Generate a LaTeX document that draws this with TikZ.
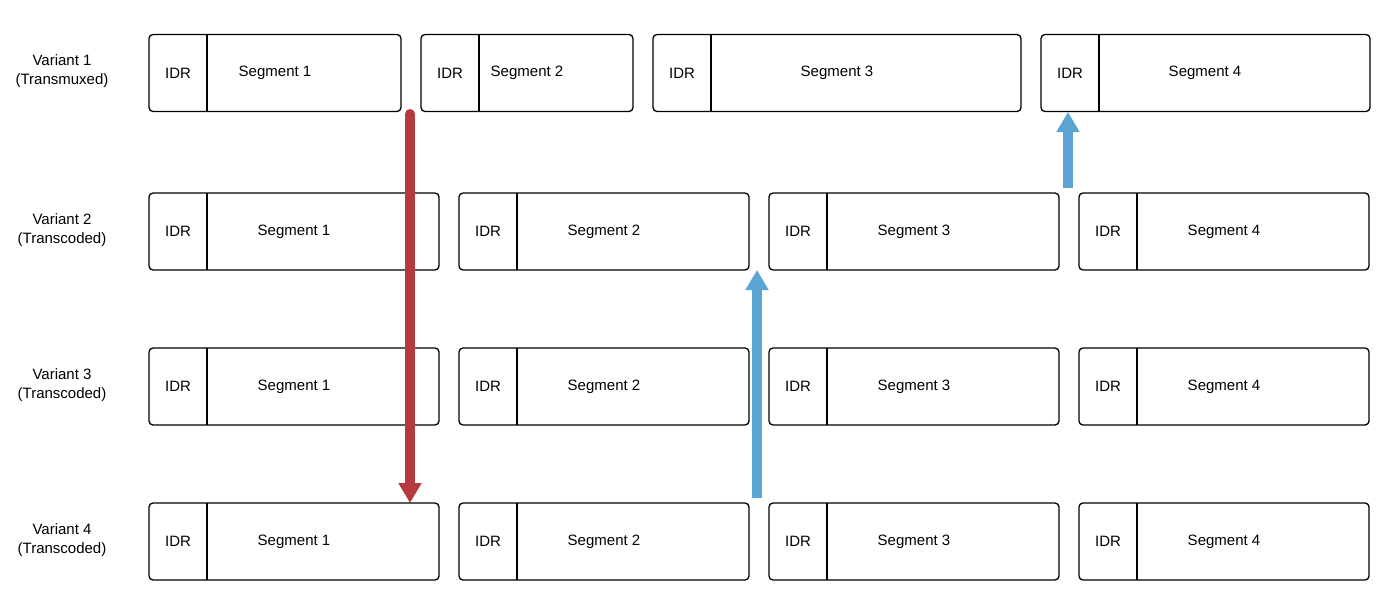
\documentclass[tikz,border=0pt]{standalone}
\usepackage{fontspec}
\setmainfont{Liberation Sans}
\usetikzlibrary{arrows.meta}
\definecolor{redarr}{HTML}{B5393F}
\definecolor{bluearr}{HTML}{5BA4D4}
\tikzset{
 seg/.style={draw=black, line width=1.3pt, rounded corners=4pt, minimum height=77pt, inner sep=0pt},
 txt/.style={font=\fontsize{15}{18}\selectfont, inner sep=0pt},
 lab/.style={font=\fontsize{15}{19}\selectfont, align=center, inner sep=0pt},
 fat/.style={line width=10pt, -{Triangle[width=22pt,length=20pt]}}
}
\newcommand{\sg}[6]{% name, x1, x2, ymid, segtext x, text
 \node[seg, minimum width={#3-#2}] (#1) at ({(#2+#3)/2},#4) {};
 \draw[line width=1.3pt] ({#2+58},{#4-38.5}) -- ({#2+58},{#4+38.5});
 \node[txt] (#1i) at ({#2+29},#4) {IDR};
 \node[txt] (#1t) at (#5,#4) {#6};
}
\begin{document}
\begin{tikzpicture}[x=1pt,y=-1pt]
\useasboundingbox (0,0) rectangle (1388,610);
\node[lab] (v1) at (62,71) {Variant 1\\(Transmuxed)};
\node[lab] (v2) at (62,230) {Variant 2\\(Transcoded)};
\node[lab] (v3) at (62,385) {Variant 3\\(Transcoded)};
\node[lab] (v4) at (62,540) {Variant 4\\(Transcoded)};
\sg{a1}{149}{401}{73}{275}{Segment 1}
\sg{a2}{421}{633}{73}{527}{Segment 2}
\sg{a3}{653}{1021}{73}{837}{Segment 3}
\sg{a4}{1041}{1370}{73}{1205}{Segment 4}
\foreach \r/\y in {b/231.5,c/386.5,d/541.5}{
 \sg{\r1}{149}{439}{\y}{294}{Segment 1}
 \sg{\r2}{459}{749}{\y}{604}{Segment 2}
 \sg{\r3}{769}{1059}{\y}{914}{Segment 3}
 \sg{\r4}{1079}{1369}{\y}{1224}{Segment 4}
}
\coordinate (rs) at (410,114);
\coordinate (re) at (410,503);
\draw[fat, redarr, line cap=round] (rs) -- (re);
\coordinate (bs) at (757,498);
\coordinate (be) at (757,270);
\draw[fat, bluearr] (bs) -- (be);
\coordinate (cs) at (1068,188);
\coordinate (ce) at (1068,112);
\draw[fat, bluearr] (cs) -- (ce);
\end{tikzpicture}
\end{document}
